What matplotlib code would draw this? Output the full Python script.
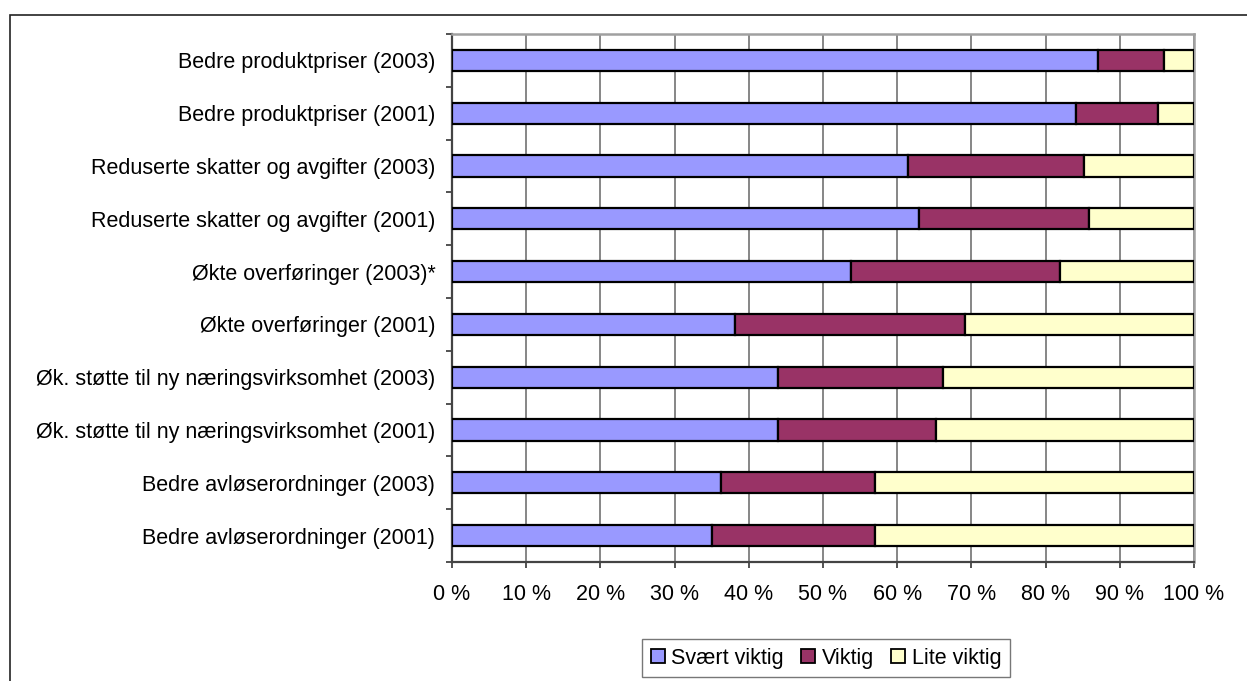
import matplotlib.pyplot as plt
import numpy as np
from matplotlib.patches import Patch, Rectangle

plt.rcParams['font.family'] = ['Liberation Sans', 'DejaVu Sans']

# Categories from top to bottom
categories = [
    'Bedre produktpriser (2003)',
    'Bedre produktpriser (2001)',
    'Reduserte skatter og avgifter (2003)',
    'Reduserte skatter og avgifter (2001)',
    'Økte overføringer (2003)*',
    'Økte overføringer (2001)',
    'Øk. støtte til ny næringsvirksomhet (2003)',
    'Øk. støtte til ny næringsvirksomhet (2001)',
    'Bedre avløserordninger (2003)',
    'Bedre avløserordninger (2001)',
]
svaert_viktig = [87.0, 84.1, 61.4, 63.0, 53.8, 38.1, 44.0, 44.0, 36.2, 35.1]
viktig = [8.9, 11.1, 23.8, 22.9, 28.1, 31.1, 22.2, 21.2, 20.8, 21.9]
lite_viktig = [100 - a - b for a, b in zip(svaert_viktig, viktig)]
series_names = ['Svært viktig', 'Viktig', 'Lite viktig']
colors = ['#9999FF', '#993366', '#FFFFCC']

fs = 15.5

fig = plt.figure(figsize=(12.47, 6.81), dpi=100)
ax = fig.add_axes([452 / 1247, 1 - 562 / 681, (1194 - 452) / 1247, (562 - 34) / 681])

# outer chart frame
fig.patches.append(Rectangle((10 / 1247, -0.2), 1.2, 1.2 - 15 / 681,
                             transform=fig.transFigure, fill=False,
                             edgecolor='#222222', linewidth=1.2, zorder=0))

y = np.arange(len(categories))
left = np.zeros(len(categories))
for vals, name, col in zip([svaert_viktig, viktig, lite_viktig], series_names, colors):
    ax.barh(y, vals, left=left, height=0.4, color=col, edgecolor='black',
            linewidth=1.6, label=name, zorder=3)
    left = left + np.array(vals)

ax.set_xlim(0, 100)
ax.set_ylim(len(categories) - 0.5, -0.5)

ax.set_xticks(np.arange(0, 101, 10))
ax.set_xticklabels([f'{v} %' for v in range(0, 101, 10)], fontsize=fs)
ax.xaxis.grid(True, color='#666666', linewidth=1.1, zorder=0)
ax.tick_params(axis='x', direction='out', length=4.5, width=1.3, color='#444444', pad=11)

ax.set_yticks(y)
ax.set_yticklabels(categories, fontsize=fs)
ax.set_yticks(np.arange(-0.5, len(categories) + 0.5, 1), minor=True)
ax.tick_params(axis='y', which='major', length=0, pad=12)
ax.tick_params(axis='y', which='minor', direction='out', length=4.5, width=1.3, color='#444444')

for side in ['top', 'right']:
    ax.spines[side].set_color('#A0A0A0')
    ax.spines[side].set_linewidth(1.8)
for side in ['left', 'bottom']:
    ax.spines[side].set_color('#444444')
    ax.spines[side].set_linewidth(1.6)

handles = [Patch(facecolor=c, edgecolor='black', linewidth=1.3) for c in colors]
leg = fig.legend(handles, series_names, loc='upper center',
                 bbox_to_anchor=(826 / 1247, 1 - 639 / 681), ncol=3, fontsize=fs,
                 frameon=True, fancybox=False, edgecolor='#555555',
                 handlelength=0.65, handleheight=0.6, handletextpad=0.3,
                 columnspacing=0.8, borderpad=0.4, borderaxespad=0)
leg.get_frame().set_linewidth(1.0)

fig.savefig('out.png', dpi=100)
